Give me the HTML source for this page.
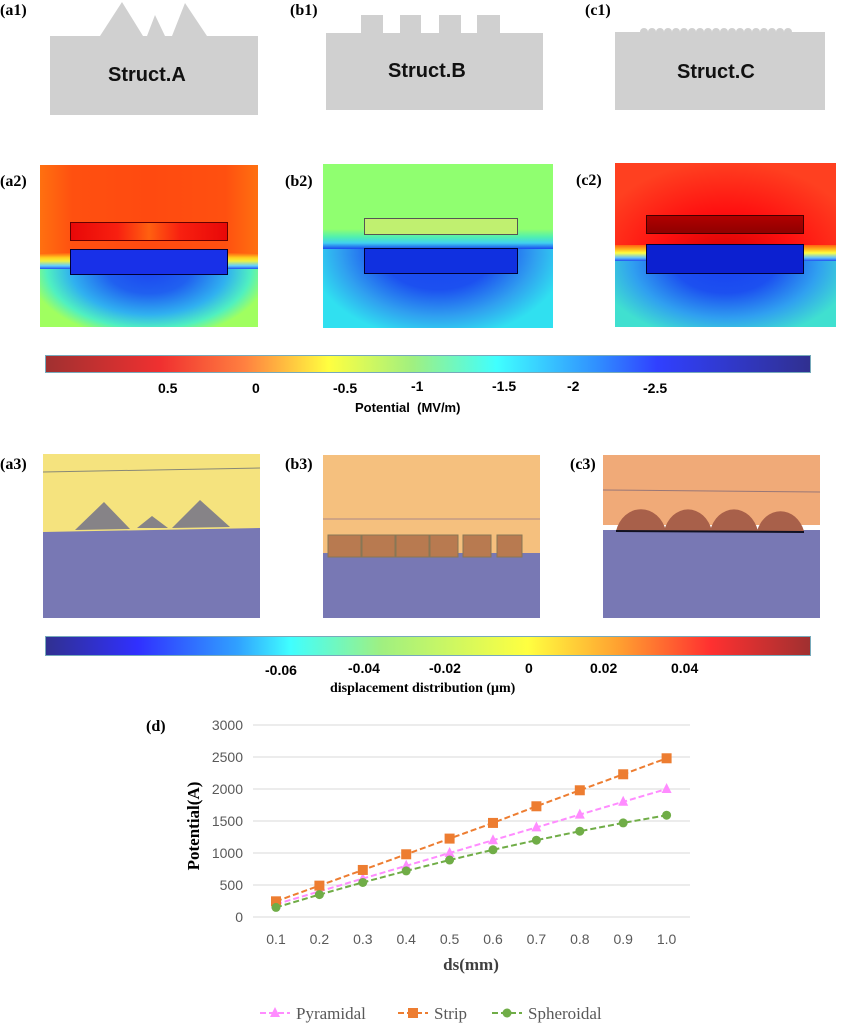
<!DOCTYPE html>
<html><head><meta charset="utf-8"><style>
body{margin:0;width:843px;height:1024px;background:#fff;position:relative;overflow:hidden;font-family:"Liberation Serif",serif}
.abs{position:absolute}
.lab{position:absolute;font-weight:bold;font-size:16px;font-family:"Liberation Serif",serif}
.st{position:absolute;font-family:"Liberation Sans",sans-serif;font-weight:bold;font-size:20px;color:#111}
.cb{position:absolute;font-family:"Liberation Sans",sans-serif;font-weight:bold;font-size:14px}
</style></head><body>
<!-- row 1 -->
<div class="lab" style="left:0;top:2px">(a1)</div>
<div class="lab" style="left:290px;top:2px">(b1)</div>
<div class="lab" style="left:585px;top:2px">(c1)</div>
<svg class="abs" style="left:0;top:0" width="843" height="130">
<path d="M50,36 L100,36 L122,2 L143,36 L147,36 L155,15 L165,36 L172,36 L185,3 L207,36 L258,36 L258,115 L50,115Z" fill="#d0d0d0"/>
<path d="M326,33 L361,33 L361,15 L383,15 L383,33 L400,33 L400,15 L421,15 L421,33 L439,33 L439,15 L461,15 L461,33 L477,33 L477,15 L500,15 L500,33 L543,33 L543,110 L326,110Z" fill="#d0d0d0"/>
<path d="M615,32 L825,32 L825,110 L615,110Z" fill="#d0d0d0"/>
<g fill="#d0d0d0">
<circle cx="644" cy="32" r="4"/><circle cx="652" cy="32" r="4"/><circle cx="660" cy="32" r="4"/><circle cx="668" cy="32" r="4"/><circle cx="676" cy="32" r="4"/><circle cx="684" cy="32" r="4"/><circle cx="692" cy="32" r="4"/><circle cx="700" cy="32" r="4"/><circle cx="708" cy="32" r="4"/><circle cx="716" cy="32" r="4"/><circle cx="724" cy="32" r="4"/><circle cx="732" cy="32" r="4"/><circle cx="740" cy="32" r="4"/><circle cx="748" cy="32" r="4"/><circle cx="756" cy="32" r="4"/><circle cx="764" cy="32" r="4"/><circle cx="772" cy="32" r="4"/><circle cx="780" cy="32" r="4"/><circle cx="788" cy="32" r="4"/></g>
</svg>
<div class="st" style="left:108px;top:64px">Struct.A</div>
<div class="st" style="left:388px;top:60px">Struct.B</div>
<div class="st" style="left:677px;top:61px">Struct.C</div>
<!-- row 2 -->
<div class="lab" style="left:0;top:173px">(a2)</div>
<div class="lab" style="left:285px;top:173px">(b2)</div>
<div class="lab" style="left:576px;top:172px">(c2)</div>
<div class="abs" style="left:40px;top:165px;width:218px;height:162px;overflow:hidden;background:linear-gradient(90deg,#ff7010,#ff5010 15%,#ff4a10 50%,#ff5010 85%,#ff7010)">
<div class="abs" style="left:0;top:88px;width:218px;height:16px;background:linear-gradient(#ff6010,#ffd020 30%,#f0f040 50%,#60d0ff 80%,#2050f0)"></div>
<div class="abs" style="left:0;top:104px;width:218px;height:58px;background:radial-gradient(ellipse 120px 70px at 50% 0%,#1c44f0 0%,#2060f0 35%,#30b0f0 65%,#50f0c0 85%,#a0ff60 100%)"></div>
<div class="abs" style="left:30px;top:57px;width:156px;height:17px;border:1px solid #600;background:linear-gradient(90deg,#e80808,#f82010 30%,#ff6010 50%,#f82010 70%,#e80808)"></div>
<div class="abs" style="left:30px;top:84px;width:156px;height:24px;border:1px solid #003;background:#1830e8"></div></div>
<div class="abs" style="left:323px;top:164px;width:230px;height:164px;overflow:hidden;background:#90ff70">
<div class="abs" style="left:0;top:65px;width:230px;height:20px;background:linear-gradient(#90ff70,#50f0b0 40%,#40d0f0 70%,#1848f0)"></div>
<div class="abs" style="left:0;top:85px;width:230px;height:79px;background:radial-gradient(ellipse 130px 90px at 50% 0%,#1844f0 0%,#1c50f0 45%,#30a0f0 75%,#30e0f0 100%)"></div>
<div class="abs" style="left:41px;top:54px;width:152px;height:15px;border:1px solid #555;background:#c0f070"></div>
<div class="abs" style="left:41px;top:84px;width:152px;height:24px;border:1px solid #003;background:#1030e0"></div></div>
<div class="abs" style="left:615px;top:163px;width:221px;height:164px;overflow:hidden;background:radial-gradient(ellipse 140px 100px at 50% 60%,#d00000 0%,#ff1010 50%,#ff4020 100%)">
<div class="abs" style="left:0;top:82px;width:221px;height:16px;background:linear-gradient(#ff6010,#ffc020 30%,#ffff40 50%,#60c0ff 80%,#2050f0)"></div>
<div class="abs" style="left:0;top:98px;width:221px;height:66px;background:radial-gradient(ellipse 130px 80px at 50% 0%,#1840f0 0%,#1c50f0 40%,#30a0f0 72%,#40e0d0 100%)"></div>
<div class="abs" style="left:31px;top:52px;width:156px;height:17px;border:1px solid #400;background:linear-gradient(#b00000,#900000)"></div>
<div class="abs" style="left:31px;top:81px;width:156px;height:28px;border:1px solid #003;background:#0c20d0"></div></div>
<div class="abs" style="left:45px;top:355px;width:764px;height:16px;border:1px solid #7ab;background:linear-gradient(90deg,#a03030,#f03030 15%,#ff8040 26%,#ffff40 37%,#a0f080 48%,#40ffff 59%,#3090ff 72%,#3040ff 80%,#303090)"></div>
<div class="cb" style="left:158px;top:380px">0.5</div><div class="cb" style="left:252px;top:380px">0</div><div class="cb" style="left:333px;top:380px">-0.5</div><div class="cb" style="left:411px;top:378px">-1</div><div class="cb" style="left:492px;top:378px">-1.5</div><div class="cb" style="left:567px;top:378px">-2</div><div class="cb" style="left:643px;top:380px">-2.5</div>
<div class="cb" style="left:355px;top:400px;font-size:13px">Potential&nbsp; (MV/m)</div>
<!-- row 3 -->
<div class="lab" style="left:0;top:456px">(a3)</div>
<div class="lab" style="left:285px;top:456px">(b3)</div>
<div class="lab" style="left:570px;top:456px">(c3)</div>
<svg class="abs" style="left:0;top:450px" width="843" height="175">
<rect x="43" y="4" width="217" height="92" fill="#f5e37e"/>
<line x1="43" y1="22" x2="260" y2="18" stroke="#887"/>
<path d="M43,82 L260,78 L260,168 L43,168Z" fill="#7878b4"/>
<path d="M75,80 L104,52 L130,79Z M137,78 L152,66 L168,78Z M172,78 L200,50 L230,77Z" fill="#7a7888" opacity="0.9"/>
<rect x="323" y="5" width="217" height="125" fill="#f5c07e"/>
<line x1="323" y1="69" x2="540" y2="69" stroke="#a88"/>
<rect x="323" y="103" width="217" height="65" fill="#7878b4"/>
<g fill="#b87a50" stroke="#875"><rect x="328" y="85" width="33" height="22"/><rect x="362" y="85" width="33" height="22"/><rect x="396" y="85" width="33" height="22"/><rect x="430" y="85" width="28" height="22"/><rect x="463" y="85" width="28" height="22"/><rect x="497" y="85" width="25" height="22"/></g>
<rect x="603" y="5" width="217" height="70" fill="#f0aa78"/>
<line x1="603" y1="40" x2="820" y2="42" stroke="#977"/>
<rect x="603" y="80" width="217" height="88" fill="#7878b4"/>
<g fill="#a8604a"><path d="M616,81 A26,30 0 0 1 666,81Z"/><path d="M664,81 A25,30 0 0 1 712,81Z"/><path d="M710,81 A25,30 0 0 1 758,81Z"/><path d="M757,81 A25,30 0 0 1 804,81Z"/></g>
<line x1="616" y1="81" x2="804" y2="82" stroke="#112" stroke-width="2"/>
</svg>
<div class="abs" style="left:45px;top:636px;width:764px;height:18px;border:1px solid #7ab;background:linear-gradient(90deg,#303090,#3030ff 12%,#30a0ff 25%,#40ffff 32%,#a0f080 44%,#ffff40 63%,#ffa030 75%,#ff3030 87%,#a03030)"></div>
<div class="cb" style="left:265px;top:662px">-0.06</div><div class="cb" style="left:348px;top:660px">-0.04</div><div class="cb" style="left:429px;top:660px">-0.02</div><div class="cb" style="left:525px;top:660px">0</div><div class="cb" style="left:590px;top:660px">0.02</div><div class="cb" style="left:671px;top:660px">0.04</div>
<div class="abs" style="left:330px;top:681px;font-weight:bold;font-size:14px">displacement distribution (μm)</div>
<!-- chart d -->
<div class="lab" style="left:146px;top:718px">(d)</div>
<svg id="chart" class="abs" style="left:0;top:700px" width="843" height="324"></svg>
<script>
const categories=["0.1","0.2","0.3","0.4","0.5","0.6","0.7","0.8","0.9","1.0"];
const pyramidal=[200,400,600,800,1000,1200,1400,1600,1800,2000];
const strip=[245,490,735,980,1225,1470,1730,1980,2230,2480];
const spheroidal=[150,350,540,720,890,1050,1200,1340,1470,1590];
const yTicks=[0,500,1000,1500,2000,2500,3000];
const NS="http://www.w3.org/2000/svg";
const svg=document.getElementById('chart');
const OY=700;
function X(i){return 276+i*43.4;}
function Y(v){return 917-OY-v*(192/3000);}
function mk(t,a){const e=document.createElementNS(NS,t);for(const k in a)e.setAttribute(k,a[k]);svg.appendChild(e);return e;}
yTicks.forEach(v=>{
 const l=mk('line',{x1:253,x2:690,y1:Y(v),y2:Y(v),stroke:'#d9d9d9','stroke-width':1});
 
 
 const t=mk('text',{x:243,y:Y(v)+5,'text-anchor':'end','font-size':14,fill:'#595959','font-family':'Liberation Sans, sans-serif'});
 t.textContent=v;
 
 
});
categories.forEach((c,i)=>{
 const t=mk('text',{x:X(i),y:244,'text-anchor':'middle','font-size':14,fill:'#595959','font-family':'Liberation Sans, sans-serif'});
 t.textContent=c;
 
 
});
const series=[[pyramidal,'#ff8cff','tri','pyramidal'],[strip,'#ed7d31','sq','strip'],[spheroidal,'#70ad47','ci','spheroidal']];
series.forEach(([d,col,m,n])=>{
 const p=mk('polyline',{points:d.map((v,i)=>X(i)+','+Y(v)).join(' '),fill:'none',stroke:col,'stroke-width':2,'stroke-dasharray':'6,3'});
 
 
 d.forEach((v,i)=>{
  let e;const x=X(i),y=Y(v);
  if(m==='sq')e=mk('rect',{x:x-5,y:y-5,width:10,height:10,fill:col});
  else if(m==='ci')e=mk('circle',{cx:x,cy:y,r:4.5,fill:col});
  else e=mk('polygon',{points:`${x},${y-6} ${x-5},${y+4} ${x+5},${y+4}`,fill:col});
  
  
 });
});
let t=mk('text',{x:471,y:270,'text-anchor':'middle','font-size':17,'font-weight':'bold',fill:'#404040','font-family':'Liberation Serif, serif'});
t.textContent='ds(mm)';


t=mk('text',{x:0,y:0,'text-anchor':'middle','font-size':17,'font-weight':'bold',fill:'#000',transform:'translate(199,126) rotate(-90)','font-family':'Liberation Serif, serif'});
t.textContent='Potential(A)';


const legend=[['Pyramidal','#ff8cff','tri',260],['Strip','#ed7d31','sq',398],['Spheroidal','#70ad47','ci',492]];
legend.forEach(([lab,col,m,x])=>{
 const y=313;
 const l=mk('line',{x1:x,x2:x+30,y1:y,y2:y,stroke:col,'stroke-width':2,'stroke-dasharray':'6,3'});
 
 
 let e;const cx=x+15;
 if(m==='sq')e=mk('rect',{x:cx-5,y:y-5,width:10,height:10,fill:col});
 else if(m==='ci')e=mk('circle',{cx:cx,cy:y,r:4.5,fill:col});
 else e=mk('polygon',{points:`${cx},${y-6} ${cx-5},${y+4} ${cx+5},${y+4}`,fill:col});
 
 
 const t=mk('text',{x:x+36,y:y+6,'font-size':17,fill:'#595959','font-family':'Liberation Serif, serif'});
 t.textContent=lab;
 
 
});
</script>
</body></html>
